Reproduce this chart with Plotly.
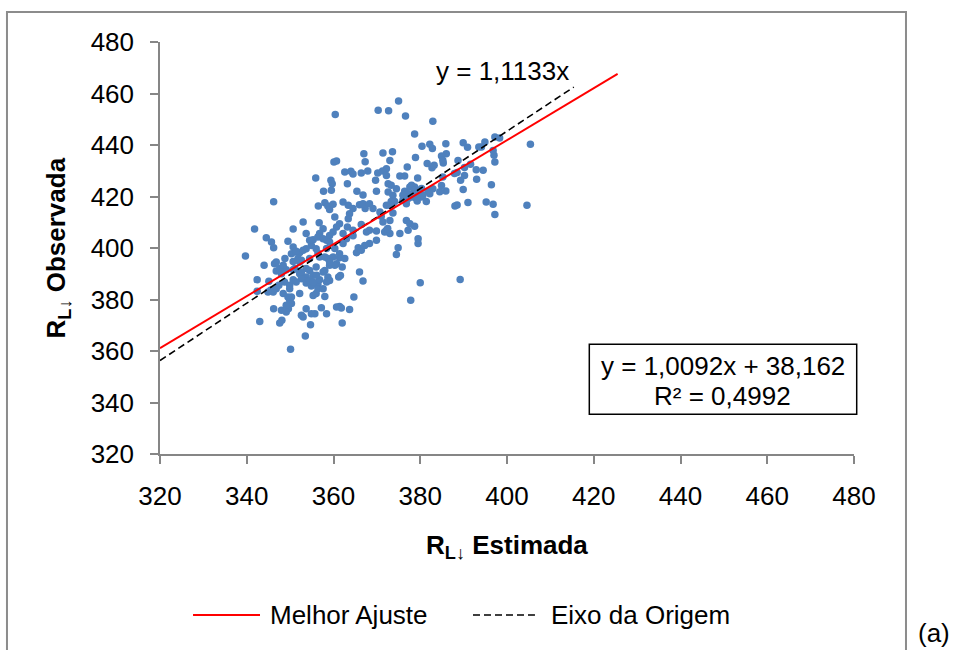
import plotly.graph_objects as go

est_a = [360.4, 370.3, 372.7, 375.0, 376.6, 382.9, 378.7, 380.4, 382.2, 382.8, 385.9, 389.9, 390.9, 393.5,
         367.0, 371.4, 373.6, 360.1, 360.7, 367.3, 370.2, 372.2, 371.3, 373.0, 377.0, 378.9, 381.6, 382.7,
         385.3, 386.0, 384.9, 388.7, 390.2, 388.5, 392.9, 391.6]
obs_a = [451.8, 453.5, 453.3, 457.1, 451.3, 449.2, 444.3, 439.5, 440.3, 438.6, 440.5, 440.9, 439.1, 439.2,
         436.6, 436.9, 437.4, 433.4, 433.8, 433.5, 429.1, 430.8, 429.9, 434.0, 431.5, 435.1, 432.8, 431.2,
         433.0, 436.6, 435.7, 434.0, 431.3, 429.3, 430.4, 432.5]

est_b = [355.9, 359.4, 359.7, 362.6, 364.0, 364.5, 366.4, 367.9, 363.2, 357.7, 359.5, 365.4, 366.8, 369.7,
         369.9, 372.6, 372.6, 375.3, 376.4, 374.5, 376.4, 377.6, 378.7, 379.4, 378.7, 380.3, 381.8, 382.9,
         381.4, 385.9, 388.0, 388.5, 389.9, 391.0, 389.3, 393.0]
obs_b = [427.2, 426.3, 425.0, 429.5, 429.8, 428.7, 429.1, 429.9, 425.0, 422.0, 422.4, 422.0, 420.6, 426.3,
         422.0, 425.0, 421.7, 428.0, 428.0, 423.0, 422.0, 423.7, 423.7, 427.2, 421.7, 419.8, 422.0, 423.0,
         418.1, 422.1, 416.3, 416.7, 422.7, 417.7, 426.3, 426.7]

est_c = [346.2, 356.5, 358.0, 358.7, 359.1, 359.9, 362.2, 363.4, 364.5, 366.0, 367.3, 366.8, 369.1, 368.3,
         370.7, 372.2, 374.1, 376.0, 377.3, 378.3, 379.3, 377.2, 376.8, 373.7, 371.0, 363.7, 363.4, 360.3,
         361.4, 356.7, 360.7, 363.2, 364.5, 366.4, 368.3, 369.9, 371.4, 373.0, 372.2, 373.0, 375.3, 374.9,
         374.5, 376.8, 377.6, 378.7, 377.2, 379.5, 379.5]
obs_c = [418.0, 416.3, 417.6, 416.3, 415.0, 417.0, 417.9, 416.6, 415.3, 416.8, 415.3, 417.2, 415.3, 417.2,
         414.0, 416.6, 418.1, 418.5, 421.1, 419.8, 418.3, 419.2, 417.2, 413.6, 412.3, 413.3, 411.4, 412.0,
         409.4, 409.8, 408.2, 408.2, 406.9, 409.1, 406.9, 406.6, 410.1, 410.7, 406.9, 405.6, 405.6, 400.1,
         397.5, 410.7, 409.4, 408.4, 406.9, 403.6, 401.7]

est_d = [368.3, 367.2, 365.7, 365.3, 362.2, 364.5, 363.0, 359.9, 359.1, 358.4, 357.6, 356.8, 355.3, 354.9,
         356.0, 353.7, 353.0, 350.7, 349.5, 350.7, 351.2, 352.2, 351.8, 352.6, 354.5, 356.4, 356.8, 358.0,
         358.7, 359.9, 361.4, 362.6]
obs_d = [401.7, 401.0, 400.1, 398.2, 401.7, 404.8, 403.6, 406.2, 404.9, 403.0, 407.5, 405.6, 403.2, 401.0,
         399.7, 399.7, 410.1, 407.4, 402.6, 400.4, 398.4, 398.2, 395.9, 395.2, 395.9, 398.1, 396.5, 396.5,
         395.9, 396.5, 396.2, 395.9]

est_e = [360.7, 359.1, 358.0, 356.0, 354.5, 355.3, 353.7, 352.2, 350.7, 349.1, 348.4, 346.4, 346.8, 344.0,
         342.4, 345.1, 345.5, 346.1, 347.4, 348.7, 349.9, 350.7, 352.6, 353.7, 354.5, 354.9, 356.4, 356.8,
         358.7, 359.1, 361.2, 361.6, 362.0, 366.0, 366.8]
obs_e = [393.9, 393.3, 391.3, 392.6, 391.3, 389.4, 388.7, 390.0, 391.6, 391.6, 392.2, 393.9, 391.1, 393.3,
         387.7, 387.1, 383.6, 382.9, 385.5, 386.8, 385.5, 387.7, 388.1, 386.4, 387.4, 385.2, 385.9, 387.7,
         388.7, 387.4, 388.7, 389.3, 392.6, 390.7, 387.2]

est_f = [364.7, 363.7, 361.8, 361.4, 362.0, 358.4, 357.2, 355.7, 354.9, 353.7, 353.0, 352.6, 354.7, 350.3,
         349.9, 349.6, 349.1, 348.0, 347.6, 348.1, 346.2, 343.0, 341.8, 344.5, 345.7, 346.2, 339.7, 342.4,
         350.3, 352.2, 355.3, 356.0, 358.0, 377.8, 380.0, 389.2, 353.5, 350.1]
obs_f = [381.0, 376.1, 376.7, 377.3, 370.9, 374.5, 376.8, 374.5, 374.5, 376.4, 373.2, 373.9, 370.2, 378.4,
         379.7, 376.4, 375.1, 375.8, 370.9, 371.9, 376.4, 371.5, 407.4, 404.0, 402.3, 400.1, 396.9, 383.2,
         381.0, 382.3, 381.6, 382.3, 381.2, 379.7, 386.5, 387.8, 365.8, 360.7]

est_g = [373.3, 373.7, 376.0, 377.6, 379.1, 378.0, 378.7, 379.5, 380.3, 382.2, 380.6, 373.3, 373.0, 385.2,
         383.2, 385.2, 387.9, 390.2, 384.9, 384.5, 372.2]
obs_g = [424.4, 420.5, 420.5, 419.8, 419.2, 424.4, 422.4, 421.8, 423.1, 421.1, 420.5, 418.1, 416.6, 427.6,
         432.1, 434.1, 428.9, 428.2, 424.3, 421.8, 428.2]

est_h = [394.5, 394.9, 394.1, 397.2, 398.3, 405.4, 396.8, 397.0, 397.2, 396.4, 395.2, 396.8, 397.2, 404.6]
obs_h = [430.2, 441.2, 439.2, 443.1, 442.7, 440.3, 437.9, 436.0, 433.4, 424.6, 417.9, 417.0, 413.0, 416.6]

est_i = [350.7, 349.9, 348.4, 353.7, 356.1, 355.3, 357.6, 358.4, 356.4, 357.6, 360.3, 359.1, 361.4, 360.7,
         353.7, 356.4, 357.6, 359.1, 358.4, 360.3, 362.2, 367.6, 369.9, 371.8, 366.4, 352.2, 351.1, 352.6,
         346.8, 344.9, 372.5]
obs_i = [394.8, 384.2, 382.3, 392.0, 389.4, 386.8, 390.7, 386.8, 384.2, 384.2, 393.3, 394.6, 397.8, 377.1,
         405.6, 404.3, 403.6, 402.3, 399.8, 399.8, 405.6, 406.2, 403.0, 406.2, 399.1, 394.6, 392.0, 390.7,
         384.2, 382.9, 407.6]

est_j = [346.8, 347.6, 348.4, 348.8, 348.0, 350.3, 351.4, 353.0, 354.5, 351.4, 349.5, 349.1]
obs_j = [394.6, 392.0, 393.3, 395.9, 390.0, 397.8, 398.7, 399.1, 403.0, 386.8, 381.0, 377.8]

groups = [(est_a, obs_a), (est_b, obs_b), (est_c, obs_c), (est_d, obs_d), (est_e, obs_e),
          (est_f, obs_f), (est_g, obs_g), (est_h, obs_h), (est_i, obs_i), (est_j, obs_j)]
for gx, gy in groups:
    assert len(gx) == len(gy), (len(gx), len(gy))
rl_estimada = [v for gx, _ in groups for v in gx]
rl_observada = [v for _, gy in groups for v in gy]

# Trend lines (end points as drawn)
fit_x = [320, 425.5]
fit_y = [361.1, 467.6]          # y = 1,0092x + 38,162
orig_x = [320, 415.4]
orig_y = [356.3, 462.5]         # y = 1,1133x

axis_ticks = [320, 340, 360, 380, 400, 420, 440, 460, 480]

FONT = "Liberation Sans, Arial, Helvetica, sans-serif"
GRAY = "#868686"
FS = 26
DASH = "7px,4px"

fig = go.Figure()
fig.add_trace(go.Scatter(x=rl_estimada, y=rl_observada, mode="markers",
                         marker=dict(color="#4F81BD", size=7.5, line=dict(width=0)),
                         showlegend=False, cliponaxis=False))
fig.add_trace(go.Scatter(x=orig_x, y=orig_y, mode="lines", name="Eixo da Origem",
                         line=dict(color="black", width=1.6, dash=DASH), showlegend=False))
fig.add_trace(go.Scatter(x=fit_x, y=fit_y, mode="lines", name="Melhor Ajuste",
                         line=dict(color="#FF0000", width=2), showlegend=False))

axis_common = dict(range=[320, 480], tickvals=axis_ticks, ticktext=[str(t) for t in axis_ticks],
                   showline=True, linecolor=GRAY, linewidth=1.5, ticks="outside", ticklen=8,
                   tickwidth=1.5, tickcolor=GRAY, showgrid=False, zeroline=False,
                   tickfont=dict(family=FONT, size=FS, color="black"))

fig.update_layout(
    width=957, height=650,
    margin=dict(l=160, r=103, t=42, b=196, pad=0),
    paper_bgcolor="white", plot_bgcolor="white",
    font=dict(family=FONT, size=FS, color="black"),
    xaxis=dict(**axis_common, ticklabelstandoff=10),
    yaxis=dict(**axis_common, ticklabelstandoff=11),
)

shapes = [
    # outer chart border
    dict(type="rect", xref="paper", yref="paper", x0=-0.2205, x1=1.0749, y0=-0.55, y1=1.0728,
         line=dict(color="#8c8c8c", width=2), layer="below"),
    # equation box
    dict(type="rect", xref="paper", yref="paper", x0=0.6186, x1=1.0039, y0=0.0964, y1=0.2663,
         line=dict(color="black", width=1.5), fillcolor="white", layer="above"),
    # legend samples
    dict(type="line", xref="paper", yref="paper", x0=0.0476, x1=0.1441, y0=-0.3908, y1=-0.3908,
         line=dict(color="#FF0000", width=2)),
    dict(type="line", xref="paper", yref="paper", x0=0.4510, x1=0.5403, y0=-0.3908, y1=-0.3908,
         line=dict(color="black", width=1.6, dash=DASH)),
]

annotations = [
    dict(text="y = 1,0092x + 38,162", x=0.8112, y=0.2136, xref="paper", yref="paper",
         showarrow=False, xanchor="center", yanchor="middle", font=dict(size=FS)),
    dict(text="R² = 0,4992", x=0.8112, y=0.1408, xref="paper", yref="paper",
         showarrow=False, xanchor="center", yanchor="middle", font=dict(size=FS)),
    dict(text="y = 1,1133x", x=0.4942, y=0.9296, xref="paper", yref="paper",
         showarrow=False, xanchor="center", yanchor="middle", font=dict(size=FS)),
    dict(text="<b>R<sub>L↓</sub> Observada</b>", x=-0.1477, y=0.5, xref="paper", yref="paper",
         showarrow=False, xanchor="center", yanchor="middle", textangle=-90, font=dict(size=FS)),
    dict(text="<b>R<sub>L↓</sub> Estimada</b>", x=0.5007, y=-0.2257, xref="paper", yref="paper",
         showarrow=False, xanchor="center", yanchor="middle", font=dict(size=FS)),
    dict(text="Melhor Ajuste", x=0.1556, y=-0.3908, xref="paper", yref="paper",
         showarrow=False, xanchor="left", yanchor="middle", font=dict(size=FS)),
    dict(text="Eixo da Origem", x=0.5605, y=-0.3908, xref="paper", yref="paper",
         showarrow=False, xanchor="left", yanchor="middle", font=dict(size=FS)),
    dict(text="(a)", x=1.1153, y=-0.4345, xref="paper", yref="paper",
         showarrow=False, xanchor="center", yanchor="middle", font=dict(size=FS)),
]

fig.update_layout(shapes=shapes, annotations=annotations)
fig.write_html("out.html")
